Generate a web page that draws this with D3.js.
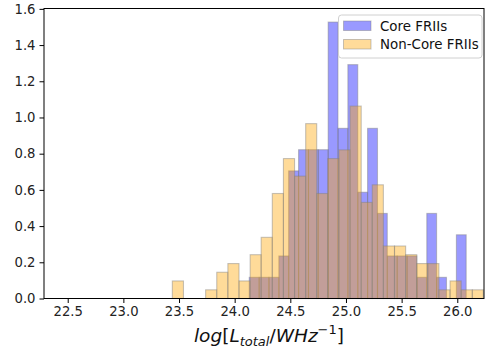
<!DOCTYPE html>
<html>
<head>
<meta charset="utf-8">
<script src="https://cdn.jsdelivr.net/npm/d3@7"></script>
<style>
  body { margin: 0; background: #fff; }
  svg text { font-family: "DejaVu Sans", sans-serif; }
</style>
</head>
<body>
<div id="chart"></div>
<script>
const width = 485;
const height = 350;
const margin = { top: 8.5, right: 1, bottom: 51.5, left: 44 };

// bin edges (log L) and density heights
const coreEdges = [24.131, 24.220, 24.308, 24.397, 24.485, 24.574, 24.663, 24.751,
  24.840, 24.928, 25.017, 25.106, 25.194, 25.283, 25.371, 25.460, 25.549, 25.637,
  25.726, 25.814, 25.903, 25.992, 26.080];
const coreDensity = [0.117, 0.117, 0.117, 0.235, 0.705, 0.822, 0.822, 0.822,
  1.527, 0.940, 1.292, 0.587, 0.940, 0.470, 0.235, 0.235, 0.235, 0.117,
  0.470, 0.117, 0, 0.352];

const nonCoreEdges = [23.440, 23.540, 23.640, 23.739, 23.839, 23.939, 24.039, 24.139,
  24.238, 24.338, 24.438, 24.538, 24.638, 24.737, 24.837, 24.937, 25.037, 25.137,
  25.236, 25.336, 25.436, 25.536, 25.636, 25.735, 25.835, 25.935, 26.035, 26.135, 26.234];
const nonCoreDensity = [0.097, 0, 0, 0.048, 0.145, 0.193, 0.097, 0.242,
  0.338, 0.580, 0.773, 0.676, 0.966, 0.580, 0.773, 0.821, 1.063, 0.531,
  0.628, 0.290, 0.290, 0.242, 0.193, 0.193, 0.048, 0.097, 0.048, 0.048];

const xTicks = [22.5, 23.0, 23.5, 24.0, 24.5, 25.0, 25.5, 26.0];
const yTicks = [0, 0.2, 0.4, 0.6, 0.8, 1.0, 1.2, 1.4, 1.6];
const xDomain = [22.287, 26.240];
const yDomain = [0, 1.602];

const seriesNames = ["Core FRIIs", "Non-Core FRIIs"];
const seriesColors = ["#0000ff", "#ffa500"];

const svg = d3.select("#chart")
  .append("svg")
  .attr("width", width)
  .attr("height", height);

const x = d3.scaleLinear().domain(xDomain).range([margin.left, width - margin.right]);
const y = d3.scaleLinear().domain(yDomain).range([height - margin.bottom, margin.top]);

function toBins(edges, values) {
  return values.map((v, i) => ({ x0: edges[i], x1: edges[i + 1], v: v }));
}

function drawHist(bins, color) {
  svg.append("g")
    .selectAll("rect")
    .data(bins.filter(d => d.v > 0))
    .enter()
    .append("rect")
    .attr("x", d => x(d.x0))
    .attr("width", d => x(d.x1) - x(d.x0))
    .attr("y", d => y(d.v))
    .attr("height", d => y(0) - y(d.v))
    .attr("fill", color)
    .attr("fill-opacity", 0.4)
    .attr("stroke", "#808080")
    .attr("stroke-opacity", 0.45)
    .attr("stroke-width", 1.1);
}

drawHist(toBins(coreEdges, coreDensity), seriesColors[0]);
drawHist(toBins(nonCoreEdges, nonCoreDensity), seriesColors[1]);

// axes
const xAxis = svg.append("g")
  .attr("transform", `translate(0,${y(0)})`)
  .call(d3.axisBottom(x).tickValues(xTicks).tickFormat(d3.format(".1f")).tickSize(4.5).tickPadding(4));
const yAxis = svg.append("g")
  .attr("transform", `translate(${x(xDomain[0])},0)`)
  .call(d3.axisLeft(y).tickValues(yTicks).tickFormat(d3.format(".1f")).tickSize(4.5).tickPadding(4));

[xAxis, yAxis].forEach(a => {
  a.select(".domain").remove();
  a.selectAll("line").attr("stroke", "#000").attr("stroke-width", 1);
  a.selectAll("text").attr("font-size", 13.2).attr("fill", "#222")
    .style("font-family", "DejaVu Sans");
});

svg.append("rect")
  .attr("x", x(xDomain[0]))
  .attr("y", y(yDomain[1]))
  .attr("width", x(xDomain[1]) - x(xDomain[0]))
  .attr("height", y(0) - y(yDomain[1]))
  .attr("fill", "none")
  .attr("stroke", "#000")
  .attr("stroke-width", 1);

// x label with sub/superscript
const label = svg.append("text")
  .attr("x", (x(xDomain[0]) + x(xDomain[1])) / 2 + 5)
  .attr("y", 342)
  .attr("text-anchor", "middle")
  .attr("font-size", 18.5)
  .attr("fill", "#111");
label.append("tspan").attr("font-style", "italic").text("log");
label.append("tspan").text("[");
label.append("tspan").attr("font-style", "italic").text("L");
label.append("tspan").attr("font-style", "italic").attr("font-size", 13).attr("dy", 4).text("total");
label.append("tspan").attr("dy", -4).text("/");
label.append("tspan").attr("font-style", "italic").text("WHz");
label.append("tspan").attr("font-size", 13).attr("dy", -8).text("\u22121");
label.append("tspan").attr("dy", 8).text("]");

// legend
const legend = svg.append("g").attr("transform", "translate(338.5,15)");
legend.append("rect")
  .attr("width", 143.5)
  .attr("height", 43)
  .attr("rx", 3)
  .attr("fill", "#fff")
  .attr("fill-opacity", 0.8)
  .attr("stroke", "#d0d0d0")
  .attr("stroke-width", 1);

seriesNames.forEach((name, i) => {
  const row = legend.append("g").attr("transform", `translate(5,${6 + i * 18.5})`);
  row.append("rect")
    .attr("width", 27.5)
    .attr("height", 9.5)
    .attr("fill", seriesColors[i])
    .attr("fill-opacity", 0.4)
    .attr("stroke", "#808080")
    .attr("stroke-opacity", 0.45);
  row.append("text")
    .attr("x", 36.5)
    .attr("y", 9.8)
    .attr("font-size", 13.4)
    .attr("fill", "#111")
    .text(name);
});
</script>
</body>
</html>
